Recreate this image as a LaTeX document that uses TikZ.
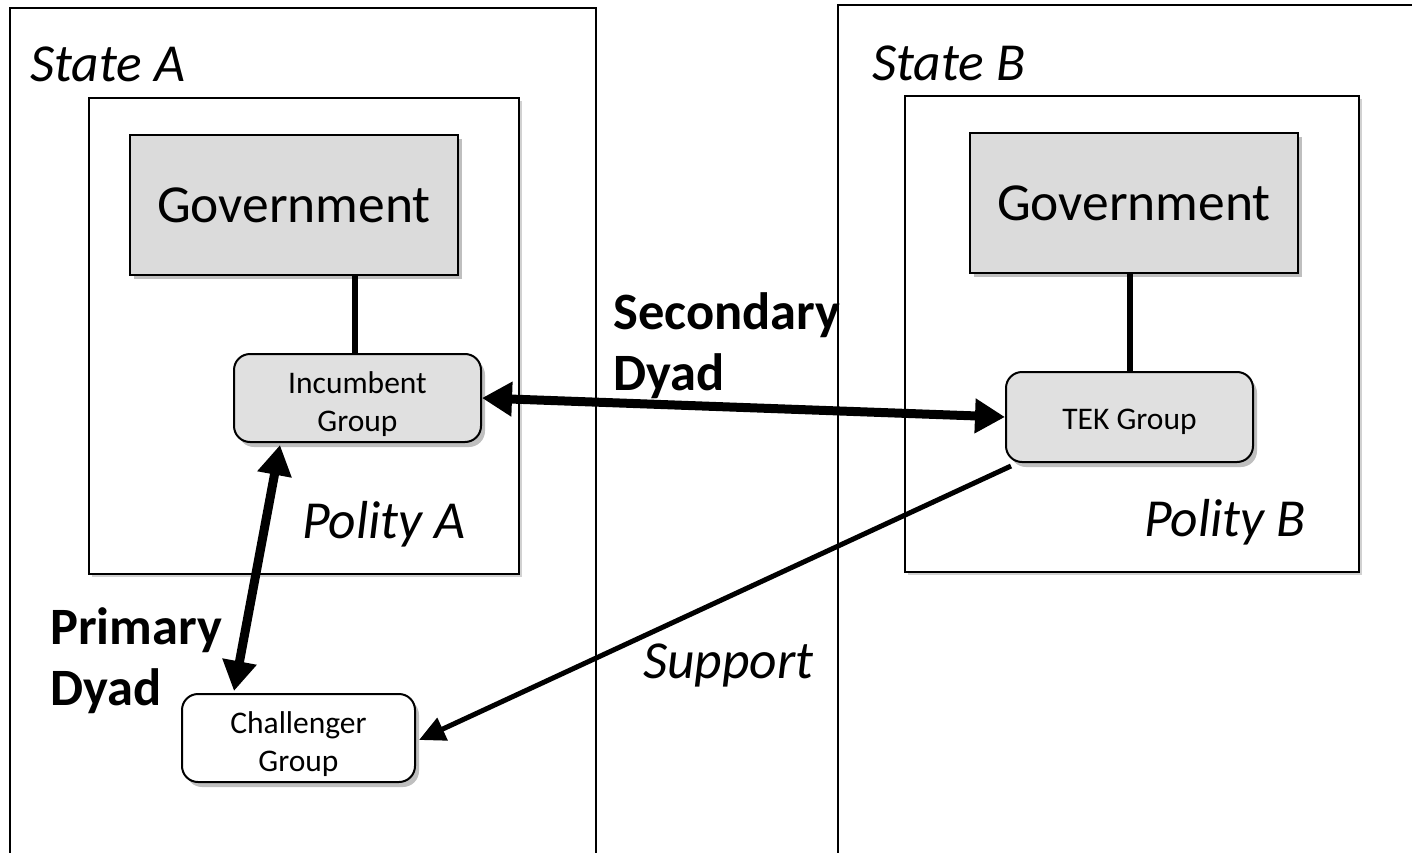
\documentclass[tikz,border=0pt]{standalone}
\usepackage{fontspec}
\setmainfont{Carlito}
\usetikzlibrary{arrows.meta,shadows,calc}
\newcommand{\grptext}[1]{\raisebox{-7pt}[\height][\depth]{\begin{tabular}{@{}c@{}}#1\end{tabular}}}
\begin{document}
\begin{tikzpicture}[x=1pt,y=-1pt,
  frame/.style={line width=2pt,draw=black},
  polity/.style={draw=black,line width=2pt,fill=white,anchor=north west,inner sep=0pt,
    drop shadow={shadow xshift=3pt,shadow yshift=-3pt,opacity=0.18,fill=black}},
  govbox/.style={draw=black,line width=2pt,fill=black!14,anchor=center,inner sep=0pt,
    minimum width=328pt,minimum height=140pt,font=\fontsize{53.5}{62}\selectfont,
    drop shadow={shadow xshift=4pt,shadow yshift=-4pt,opacity=0.25,fill=black}},
  grp/.style={draw=black,line width=2pt,rounded corners=16pt,anchor=center,inner sep=0pt,
    align=center,font=\fontsize{31.5}{38}\selectfont,
    drop shadow={shadow xshift=4pt,shadow yshift=-5pt,opacity=0.25,fill=black}},
  biglbl/.style={anchor=base west,inner sep=0pt,align=left},
  itlbl/.style={biglbl,font=\fontsize{53.5}{61}\selectfont\itshape},
  bflbl/.style={biglbl,font=\fontsize{52.5}{61}\selectfont\bfseries},
  thickarrow/.style={line width=9pt,{Triangle[length=30pt,width=33pt]}-{Triangle[length=30pt,width=33pt]}},
  supparrow/.style={line width=5pt,-{Triangle[length=26pt,width=24pt]}},
  link/.style={line width=6pt}
]
\useasboundingbox (0,0) rectangle (1412,853);
\fill[white] (0,0) rectangle (1412,853);
% state frames (open at the bottom)
\draw[frame] (10,860) -- (10,8) -- (596,8) -- (596,860);
\draw[frame] (838,860) -- (838,5) -- (1420,5);
% polity boxes
\node[polity,minimum width=430pt,minimum height=476pt] (polA) at (88,97) {};
\node[polity,minimum width=454pt,minimum height=476pt] (polB) at (904,95) {};
% governments
\node[govbox] (govA) at (294,205) {Government};
\node[govbox] (govB) at (1134,203) {Government};
% groups
\node[grp,fill=black!12,minimum width=247pt,minimum height=88pt] (inc) at (357.5,398) {\grptext{Incumbent\\Group}};
\node[grp,fill=black!12,minimum width=247pt,minimum height=90pt] (tek) at (1129.5,417) {\raisebox{-5pt}[\height][\depth]{TEK Group}};
\node[grp,fill=white,minimum width=233pt,minimum height=88pt] (chal) at (298.5,738) {\grptext{Challenger\\Group}};
% links government - group
\draw[link] (inc.north -| 355,0) -- (govA.south -| 355,0);
\draw[link] (tek.north -| 1130,0) -- (govB.south -| 1130,0);
% labels
\node[itlbl] (stA) at (30,82) {State A};
\node[itlbl] (stB) at (872,81) {State B};
\node[itlbl] (plA) at (302,538) {Polity A};
\node[itlbl] (plB) at (1144,536) {Polity B};
\node[itlbl] (sup) at (643,678) {Support};
\node[bflbl] (sec) at (613,390) {Secondary\\Dyad};
\node[bflbl] (pri) at (50,705) {Primary\\Dyad};
% arrows
\coordinate (incS) at ($(inc.south west)+(47,2)$);
\coordinate (chalN) at ($(chal.north west)+(53,-2)$);
\coordinate (tekSW) at ($(tek.south west)+(6,3)$);
\coordinate (chalE) at ($(chal.east)+(3,2)$);
\draw[thickarrow] (inc.east) -- (tek.west);
\draw[thickarrow] (incS) -- (chalN);
\draw[supparrow] (tekSW) -- (chalE);
\end{tikzpicture}
\end{document}
